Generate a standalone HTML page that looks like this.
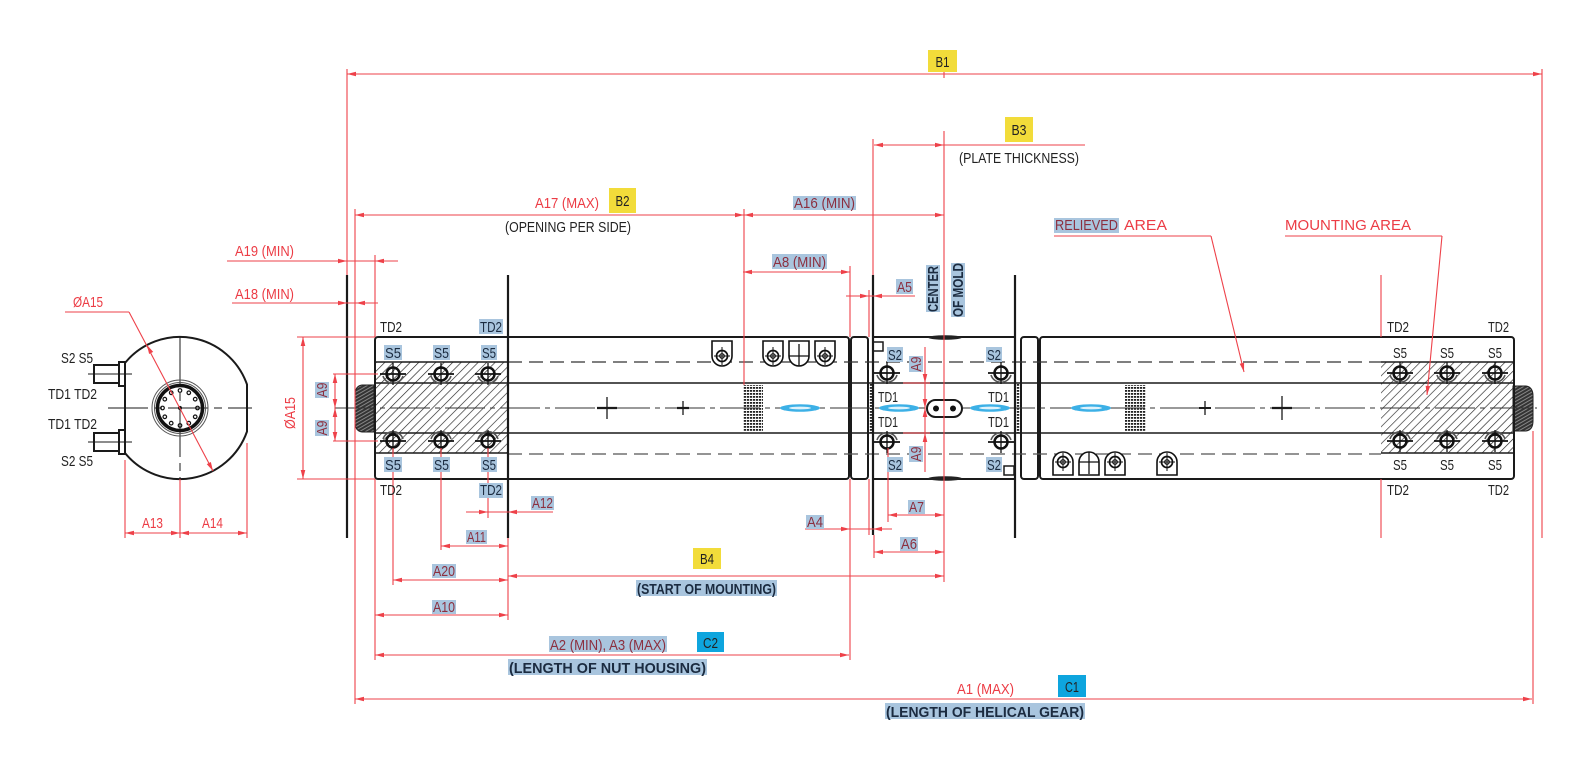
<!DOCTYPE html>
<html><head><meta charset="utf-8"><style>
html,body{margin:0;padding:0;background:#fff;}
svg{display:block}
text{font-family:"Liberation Sans Narrow","Liberation Sans",sans-serif;font-size:15px}
.r{fill:#ec3c45}
.hr{fill:#8c2f3f}
.k{fill:#222}
.hk{fill:#1b2b40}
.hl{fill:#a9c5de}
.yb{fill:#f2dc3a}
.bb{fill:#0ea5de}
</style></head><body>
<svg width="1575" height="765" viewBox="0 0 1575 765" xmlns="http://www.w3.org/2000/svg" xmlns:xlink="http://www.w3.org/1999/xlink">
<defs>
<path id="aL" d="M0,0L9,-2.3L9,2.3Z"/>
<path id="aR" d="M0,0L-9,-2.3L-9,2.3Z"/>
<path id="aU" d="M0,0L-2.3,9L2.3,9Z"/>
<path id="aD" d="M0,0L-2.3,-9L2.3,-9Z"/>
<pattern id="hatch" width="6" height="6" patternUnits="userSpaceOnUse" patternTransform="rotate(45)"><line x1="0" y1="0" x2="0" y2="6" stroke="#222" stroke-width="1.3"/></pattern>
<pattern id="gear" width="3" height="3" patternUnits="userSpaceOnUse" patternTransform="rotate(-30)"><rect width="3" height="3" fill="#333"/><line x1="0" y1="1.5" x2="3" y2="1.5" stroke="#aaa" stroke-width="0.7"/></pattern>
<pattern id="knurl" width="3" height="3" patternUnits="userSpaceOnUse"><rect width="3" height="3" fill="#fff"/><rect width="2.2" height="1.8" fill="#222"/></pattern>
<g id="bT" fill="none" stroke="#111"><path d="M-10,2A10.5,10.5 0 0 0 10,2" stroke="#555" stroke-width="1.6"/><circle r="6.5" stroke-width="2.5"/><line x1="-13" y1="0" x2="13" y2="0" stroke-width="1.8"/><line x1="0" y1="-11" x2="0" y2="11" stroke-width="1.3"/></g>
<g id="bB" fill="none" stroke="#111"><path d="M-10,-2A10.5,10.5 0 0 1 10,-2" stroke="#555" stroke-width="1.6"/><circle r="6.5" stroke-width="2.5"/><line x1="-13" y1="0" x2="13" y2="0" stroke-width="1.8"/><line x1="0" y1="-11" x2="0" y2="11" stroke-width="1.3"/></g>
<g id="icA" fill="none" stroke="#111"><path d="M-10,0H10V15A10,10 0 0 1 -10,15Z" fill="#fff" stroke-width="1.6"/><circle cx="0" cy="15" r="5.5" stroke-width="1.7"/><circle cx="0" cy="15" r="2.3" stroke-width="1.2"/><line x1="-8" y1="15" x2="8" y2="15"/><line x1="0" y1="6" x2="0" y2="24"/></g>
<g id="icB" fill="none" stroke="#111"><path d="M-10,0H10V15A10,10 0 0 1 -10,15Z" fill="#fff" stroke-width="1.6"/><line x1="-10" y1="15" x2="10" y2="15" stroke-width="1.3"/><line x1="0" y1="3" x2="0" y2="25" stroke-width="1.3"/></g>
<g id="icC" fill="none" stroke="#111"><path d="M-10,23V10A10,10 0 0 1 10,10V23Z" fill="#fff" stroke-width="1.6"/><circle cx="0" cy="10" r="5.5" stroke-width="1.7"/><circle cx="0" cy="10" r="2.3" stroke-width="1.2"/><line x1="-8" y1="10" x2="8" y2="10"/><line x1="0" y1="1" x2="0" y2="19"/></g>
<g id="icD" fill="none" stroke="#111"><path d="M-10,23V10A10,10 0 0 1 10,10V23Z" fill="#fff" stroke-width="1.6"/><line x1="-10" y1="10" x2="10" y2="10" stroke-width="1.3"/><line x1="0" y1="0" x2="0" y2="22" stroke-width="1.3"/></g>
<g id="blue"><ellipse rx="20" ry="3.8" fill="#3cb0e6"/><ellipse rx="11" ry="1.4" fill="#dff2fb"/></g>
</defs>

<!-- ===== LEFT END VIEW ===== -->
<g fill="none" stroke="#1a1a1a">
<path d="M125,363A71,71 0 0 1 247,384.5L247,431.5A71,71 0 0 1 125,453Z" stroke-width="2"/>
<line x1="108" y1="408" x2="252" y2="408" stroke-width="1" stroke-dasharray="40,6,8,6"/>
<line x1="180" y1="337" x2="180" y2="479" stroke-width="1" stroke-dasharray="50,6,8,6"/>
<circle cx="180" cy="408" r="28" stroke="#555" stroke-width="1"/>
<circle cx="180" cy="408" r="25.5" stroke="#555" stroke-width="1"/>
<circle cx="180" cy="408" r="22.5" stroke="#111" stroke-width="3.5"/>
<g stroke="#111" stroke-width="1.2">
<circle cx="197.5" cy="408" r="1.8"/><circle cx="195.2" cy="416.8" r="1.8"/><circle cx="188.8" cy="423.2" r="1.8"/><circle cx="180" cy="425.5" r="1.8"/><circle cx="171.2" cy="423.2" r="1.8"/><circle cx="164.8" cy="416.8" r="1.8"/><circle cx="162.5" cy="408" r="1.8"/><circle cx="164.8" cy="399.2" r="1.8"/><circle cx="171.2" cy="392.8" r="1.8"/><circle cx="180" cy="390.5" r="1.8"/><circle cx="188.8" cy="392.8" r="1.8"/><circle cx="195.2" cy="399.2" r="1.8"/>
</g>
<circle cx="180" cy="408" r="1.6" fill="#111"/>
<rect x="94" y="365" width="26" height="18" fill="#fff" stroke-width="2"/>
<rect x="119" y="362" width="6" height="24" fill="#fff" stroke-width="2"/>
<rect x="94" y="433" width="26" height="18" fill="#fff" stroke-width="2"/>
<rect x="119" y="430" width="6" height="24" fill="#fff" stroke-width="2"/>
<line x1="88" y1="374" x2="132" y2="374" stroke-width="1"/>
<line x1="88" y1="442" x2="132" y2="442" stroke-width="1"/>
</g>

<!-- ===== HATCHED AREAS ===== -->
<rect x="375" y="362" width="133" height="91" fill="url(#hatch)"/>
<rect x="1381" y="362" width="133" height="91" fill="url(#hatch)"/>

<!-- gears -->
<path d="M374,385L362,385Q355,386 355,395L355,422Q355,431 362,432L374,432Z" fill="url(#gear)" stroke="#222" stroke-width="1"/>
<path d="M1513,386L1526,386Q1533,387 1533,396L1533,421Q1533,430 1526,431L1513,431Z" fill="url(#gear)" stroke="#222" stroke-width="1"/>

<!-- knurls -->
<rect x="743" y="385" width="20" height="47" fill="url(#knurl)"/>
<rect x="1125" y="385" width="21" height="47" fill="url(#knurl)"/>
<rect x="868" y="384" width="5" height="49" fill="url(#knurl)"/>
<rect x="1015" y="384" width="6" height="49" fill="url(#knurl)"/>

<!-- ===== MAIN BODY OUTLINES ===== -->
<g fill="none" stroke="#1a1a1a">
<rect x="375" y="337" width="474" height="142" rx="3" stroke-width="2"/>
<rect x="851" y="337" width="17" height="142" rx="3" stroke-width="2"/>
<line x1="873" y1="337" x2="1015" y2="337" stroke-width="2"/>
<line x1="873" y1="479" x2="1015" y2="479" stroke-width="2"/>
<rect x="1021" y="337" width="17" height="142" rx="3" stroke-width="2"/>
<rect x="1040" y="337" width="474" height="142" rx="3" stroke-width="2"/>
<line x1="375" y1="383" x2="1514" y2="383" stroke-width="1.6"/>
<line x1="375" y1="433" x2="1514" y2="433" stroke-width="1.6"/>
<line x1="375" y1="362" x2="508" y2="362" stroke-width="1.4"/>
<line x1="375" y1="453" x2="508" y2="453" stroke-width="1.4"/>
<line x1="1381" y1="362" x2="1514" y2="362" stroke-width="1.4"/>
<line x1="1381" y1="453" x2="1514" y2="453" stroke-width="1.4"/>
<line x1="508" y1="362" x2="1381" y2="362" stroke="#333" stroke-width="1.3" stroke-dasharray="14,7"/>
<line x1="508" y1="454" x2="1381" y2="454" stroke="#555" stroke-width="1.3" stroke-dasharray="14,7"/>
<line x1="335" y1="408" x2="1537" y2="408" stroke="#333" stroke-width="1" stroke-dasharray="40,5,5,5"/>
<!-- long black verticals -->
<line x1="347" y1="275" x2="347" y2="538" stroke-width="2.2"/>
<line x1="508" y1="275" x2="508" y2="538" stroke-width="2.2"/>
<line x1="873" y1="275" x2="873" y2="535" stroke-width="2.2"/>
<line x1="1015" y1="275" x2="1015" y2="538" stroke-width="2.2"/>
<!-- small rects center block -->
<rect x="873" y="342" width="10" height="9" stroke-width="1.5"/>
<rect x="1004" y="466" width="10" height="9" stroke-width="1.5"/>
<!-- center oblong -->
<rect x="927" y="400" width="35" height="17" rx="8.5" fill="#fff" stroke-width="2"/>
<!-- crosses -->
<line x1="597" y1="408" x2="617" y2="408" stroke-width="2.2"/>
<line x1="607" y1="397" x2="607" y2="419" stroke-width="1.3"/>
<line x1="677" y1="408" x2="689" y2="408" stroke-width="2.2"/>
<line x1="683" y1="401" x2="683" y2="415" stroke-width="1.3"/>
<line x1="1199" y1="408" x2="1211" y2="408" stroke-width="2"/>
<line x1="1205" y1="401" x2="1205" y2="415" stroke-width="1.3"/>
<line x1="1272" y1="408" x2="1292" y2="408" stroke-width="2.2"/>
<line x1="1282" y1="396" x2="1282" y2="420" stroke-width="1.3"/>
</g>
<circle cx="936" cy="408.5" r="3" fill="#111"/>
<circle cx="953" cy="408.5" r="3" fill="#111"/>
<ellipse cx="945" cy="337.5" rx="17" ry="2.3" fill="#222"/>
<ellipse cx="945" cy="478.5" rx="17" ry="2.3" fill="#222"/>

<!-- blue scribbles -->
<use href="#blue" xlink:href="#blue" x="800" y="408"/>
<use href="#blue" xlink:href="#blue" x="899" y="408"/>
<use href="#blue" xlink:href="#blue" x="990" y="408"/>
<use href="#blue" xlink:href="#blue" x="1091" y="408"/>

<!-- bolts -->
<use href="#bT" xlink:href="#bT" x="393" y="374"/>
<use href="#bT" xlink:href="#bT" x="441" y="374"/>
<use href="#bT" xlink:href="#bT" x="488" y="374"/>
<use href="#bB" xlink:href="#bB" x="393" y="441"/>
<use href="#bB" xlink:href="#bB" x="441" y="441"/>
<use href="#bB" xlink:href="#bB" x="488" y="441"/>
<use href="#bT" xlink:href="#bT" x="1400" y="373"/>
<use href="#bT" xlink:href="#bT" x="1447" y="373"/>
<use href="#bT" xlink:href="#bT" x="1495" y="373"/>
<use href="#bB" xlink:href="#bB" x="1400" y="441"/>
<use href="#bB" xlink:href="#bB" x="1447" y="441"/>
<use href="#bB" xlink:href="#bB" x="1495" y="441"/>
<use href="#bT" xlink:href="#bT" x="887" y="373"/>
<use href="#bT" xlink:href="#bT" x="1001" y="373"/>
<use href="#bB" xlink:href="#bB" x="887" y="442"/>
<use href="#bB" xlink:href="#bB" x="1001" y="442"/>

<!-- icons -->
<use href="#icA" xlink:href="#icA" x="722" y="341"/>
<use href="#icA" xlink:href="#icA" x="773" y="341"/>
<use href="#icB" xlink:href="#icB" x="799" y="341"/>
<use href="#icA" xlink:href="#icA" x="825" y="341"/>
<use href="#icC" xlink:href="#icC" x="1063" y="452"/>
<use href="#icD" xlink:href="#icD" x="1089" y="452"/>
<use href="#icC" xlink:href="#icC" x="1115" y="452"/>
<use href="#icC" xlink:href="#icC" x="1167" y="452"/>

<!-- ===== RED DIMENSIONS ===== -->
<g stroke="#ee4149" stroke-width="1.1" fill="none">
<line x1="347" y1="74" x2="1542" y2="74"/>
<line x1="347" y1="69" x2="347" y2="275"/>
<line x1="1542" y1="69" x2="1542" y2="538"/>
<line x1="944" y1="70" x2="944" y2="78"/>
<line x1="874" y1="145" x2="1085" y2="145"/>
<line x1="873" y1="139" x2="873" y2="275"/>
<line x1="944" y1="131" x2="944" y2="582"/>
<line x1="355" y1="215" x2="944" y2="215"/>
<line x1="355" y1="209" x2="355" y2="704"/>
<line x1="744" y1="209" x2="744" y2="385"/>
<line x1="227" y1="261" x2="398" y2="261"/>
<line x1="232" y1="303" x2="378" y2="303"/>
<line x1="375" y1="255" x2="375" y2="337"/>
<line x1="375" y1="479" x2="375" y2="660"/>
<line x1="743" y1="272" x2="850" y2="272"/>
<line x1="850" y1="266" x2="850" y2="337"/>
<line x1="850" y1="479" x2="850" y2="660"/>
<line x1="846" y1="296" x2="915" y2="296"/>
<line x1="869" y1="290" x2="869" y2="337"/>
<line x1="869" y1="479" x2="869" y2="535"/>
<line x1="303" y1="337" x2="303" y2="479"/>
<line x1="297" y1="337" x2="375" y2="337"/>
<line x1="297" y1="479" x2="375" y2="479"/>
<line x1="335" y1="374" x2="335" y2="441"/>
<line x1="333" y1="374" x2="378" y2="374"/>
<line x1="333" y1="441" x2="378" y2="441"/>
<line x1="925" y1="347" x2="925" y2="472"/>
<line x1="903" y1="383" x2="930" y2="383"/>
<line x1="903" y1="433" x2="930" y2="433"/>
<line x1="65" y1="312" x2="129" y2="312"/>
<line x1="129" y1="312" x2="213" y2="471"/>
<line x1="125" y1="460" x2="125" y2="538"/>
<line x1="180" y1="479" x2="180" y2="538"/>
<line x1="247" y1="443" x2="247" y2="538"/>
<line x1="125" y1="533" x2="247" y2="533"/>
<line x1="466" y1="512" x2="553" y2="512"/>
<line x1="488" y1="448" x2="488" y2="518"/>
<line x1="441" y1="546" x2="508" y2="546"/>
<line x1="441" y1="448" x2="441" y2="550"/>
<line x1="393" y1="580" x2="508" y2="580"/>
<line x1="393" y1="448" x2="393" y2="585"/>
<line x1="508" y1="538" x2="508" y2="620"/>
<line x1="375" y1="615" x2="508" y2="615"/>
<line x1="508" y1="576" x2="944" y2="576"/>
<line x1="375" y1="655" x2="849" y2="655"/>
<line x1="805" y1="529" x2="892" y2="529"/>
<line x1="888" y1="448" x2="888" y2="522"/>
<line x1="888" y1="515" x2="944" y2="515"/>
<line x1="874" y1="535" x2="874" y2="558"/>
<line x1="874" y1="552" x2="944" y2="552"/>
<line x1="355" y1="699" x2="1532" y2="699"/>
<line x1="1533" y1="431" x2="1533" y2="704"/>
<line x1="1381" y1="275" x2="1381" y2="337"/>
<line x1="1381" y1="479" x2="1381" y2="538"/>
<line x1="1054" y1="236" x2="1211" y2="236"/>
<line x1="1211" y1="236" x2="1244" y2="372"/>
<line x1="1285" y1="236" x2="1442" y2="236"/>
<line x1="1442" y1="236" x2="1427" y2="395"/>
</g>

<!-- arrows -->
<g fill="#ee4149">
<use href="#aL" xlink:href="#aL" x="347" y="74"/><use href="#aR" xlink:href="#aR" x="1542" y="74"/>
<use href="#aL" xlink:href="#aL" x="874" y="145"/><use href="#aR" xlink:href="#aR" x="944" y="145"/>
<use href="#aL" xlink:href="#aL" x="355" y="215"/><use href="#aR" xlink:href="#aR" x="744" y="215"/>
<use href="#aL" xlink:href="#aL" x="744" y="215"/><use href="#aR" xlink:href="#aR" x="944" y="215"/>
<use href="#aR" xlink:href="#aR" x="347" y="261"/><use href="#aL" xlink:href="#aL" x="375" y="261"/>
<use href="#aR" xlink:href="#aR" x="347" y="303"/><use href="#aL" xlink:href="#aL" x="356" y="303"/>
<use href="#aL" xlink:href="#aL" x="743" y="272"/><use href="#aR" xlink:href="#aR" x="850" y="272"/>
<use href="#aR" xlink:href="#aR" x="869" y="296"/><use href="#aL" xlink:href="#aL" x="873" y="296"/>
<use href="#aU" xlink:href="#aU" x="303" y="337"/><use href="#aD" xlink:href="#aD" x="303" y="479"/>
<use href="#aU" xlink:href="#aU" x="335" y="374"/><use href="#aD" xlink:href="#aD" x="335" y="408"/>
<use href="#aU" xlink:href="#aU" x="335" y="408"/><use href="#aD" xlink:href="#aD" x="335" y="441"/>
<use href="#aD" xlink:href="#aD" x="925" y="383"/><use href="#aU" xlink:href="#aU" x="925" y="408"/>
<use href="#aD" xlink:href="#aD" x="925" y="408"/><use href="#aU" xlink:href="#aU" x="925" y="433"/>
<use href="#aL" xlink:href="#aL" x="125" y="533"/><use href="#aR" xlink:href="#aR" x="180" y="533"/>
<use href="#aL" xlink:href="#aL" x="180" y="533"/><use href="#aR" xlink:href="#aR" x="247" y="533"/>
<use href="#aR" xlink:href="#aR" x="488" y="512"/><use href="#aL" xlink:href="#aL" x="508" y="512"/>
<use href="#aL" xlink:href="#aL" x="441" y="546"/><use href="#aR" xlink:href="#aR" x="508" y="546"/>
<use href="#aL" xlink:href="#aL" x="393" y="580"/><use href="#aR" xlink:href="#aR" x="508" y="580"/>
<use href="#aL" xlink:href="#aL" x="375" y="615"/><use href="#aR" xlink:href="#aR" x="508" y="615"/>
<use href="#aL" xlink:href="#aL" x="508" y="576"/><use href="#aR" xlink:href="#aR" x="944" y="576"/>
<use href="#aL" xlink:href="#aL" x="375" y="655"/><use href="#aR" xlink:href="#aR" x="849" y="655"/>
<use href="#aR" xlink:href="#aR" x="850" y="529"/><use href="#aL" xlink:href="#aL" x="873" y="529"/>
<use href="#aL" xlink:href="#aL" x="888" y="515"/><use href="#aR" xlink:href="#aR" x="944" y="515"/>
<use href="#aL" xlink:href="#aL" x="874" y="552"/><use href="#aR" xlink:href="#aR" x="944" y="552"/>
<use href="#aL" xlink:href="#aL" x="355" y="699"/><use href="#aR" xlink:href="#aR" x="1532" y="699"/>
<polygon points="213,471 210.85,461.96 206.77,464.1"/>
<polygon points="147,345 153.2,351.9 149.1,354"/>
<polygon points="1244,372 1244.1,362.8 1239.7,363.8"/>
<polygon points="1427,395 1430.1,386.3 1425.6,385.8"/>
</g>

<!-- ===== BOXES ===== -->
<rect class="yb" x="928" y="50" width="29" height="22"/>
<rect class="yb" x="1005" y="117" width="28" height="25"/>
<rect class="yb" x="609" y="188" width="27" height="25"/>
<rect class="yb" x="693" y="548" width="28" height="21"/>
<rect class="bb" x="697" y="632" width="27" height="20"/>
<rect class="bb" x="1058" y="675" width="28" height="22"/>
<text class="k" x="942.5" y="67" text-anchor="middle" textLength="14" lengthAdjust="spacingAndGlyphs">B1</text>
<text class="k" x="1019" y="135" text-anchor="middle" textLength="15" lengthAdjust="spacingAndGlyphs">B3</text>
<text class="k" x="622.5" y="206" text-anchor="middle" textLength="14" lengthAdjust="spacingAndGlyphs">B2</text>
<text class="k" x="707" y="564" text-anchor="middle" textLength="14" lengthAdjust="spacingAndGlyphs">B4</text>
<text class="k" x="710.5" y="648" text-anchor="middle" textLength="15" lengthAdjust="spacingAndGlyphs">C2</text>
<text class="k" x="1072" y="692" text-anchor="middle" textLength="14" lengthAdjust="spacingAndGlyphs">C1</text>

<!-- ===== HIGHLIGHTS ===== -->
<g class="hl">
<rect x="793" y="196" width="63" height="14"/>
<rect x="772" y="254" width="55" height="15"/>
<rect x="896" y="279" width="17" height="15"/>
<rect x="1054" y="218" width="65" height="15"/>
<rect x="479" y="319" width="24" height="15"/>
<rect x="479" y="483" width="24" height="15"/>
<rect x="384" y="345" width="18" height="15"/><rect x="433" y="345" width="17" height="15"/><rect x="481" y="345" width="16" height="15"/>
<rect x="384" y="457" width="18" height="15"/><rect x="433" y="457" width="17" height="15"/><rect x="481" y="457" width="16" height="15"/>
<rect x="887" y="347" width="16" height="15"/><rect x="986" y="347" width="16" height="15"/>
<rect x="887" y="457" width="16" height="15"/><rect x="986" y="457" width="16" height="15"/>
<rect x="531" y="496" width="23" height="14"/>
<rect x="466" y="530" width="21" height="14"/>
<rect x="432" y="564" width="24" height="14"/>
<rect x="432" y="600" width="24" height="14"/>
<rect x="806" y="515" width="18" height="14"/>
<rect x="908" y="500" width="17" height="14"/>
<rect x="900" y="537" width="18" height="14"/>
<rect x="636" y="580" width="141" height="16"/>
<rect x="549" y="636" width="118" height="16"/>
<rect x="508" y="659" width="199" height="16"/>
<rect x="885" y="703" width="200" height="16"/>
<rect x="315" y="382" width="14" height="16"/>
<rect x="315" y="420" width="14" height="16"/>
<rect x="909" y="356" width="14" height="16"/>
<rect x="909" y="446" width="14" height="16"/>
<rect x="926" y="265" width="14" height="47"/>
<rect x="951" y="263" width="14" height="54"/>
</g>

<!-- ===== TEXT ===== -->
<text class="k" x="959" y="163" textLength="120" lengthAdjust="spacingAndGlyphs">(PLATE THICKNESS)</text>
<text class="r" x="535" y="208" textLength="64" lengthAdjust="spacingAndGlyphs">A17 (MAX)</text>
<text class="k" x="505" y="232" textLength="126" lengthAdjust="spacingAndGlyphs">(OPENING PER SIDE)</text>
<text class="hr" x="794" y="208" textLength="61" lengthAdjust="spacingAndGlyphs">A16 (MIN)</text>
<text class="hr" x="1055" y="230" textLength="63" lengthAdjust="spacingAndGlyphs">RELIEVED</text>
<text class="r" x="1124" y="230" textLength="43" lengthAdjust="spacingAndGlyphs">AREA</text>
<text class="r" x="1285" y="230" textLength="126" lengthAdjust="spacingAndGlyphs">MOUNTING AREA</text>
<text class="r" x="235" y="256" textLength="59" lengthAdjust="spacingAndGlyphs">A19 (MIN)</text>
<text class="r" x="235" y="299" textLength="59" lengthAdjust="spacingAndGlyphs">A18 (MIN)</text>
<text class="hr" x="773" y="267" textLength="53" lengthAdjust="spacingAndGlyphs">A8 (MIN)</text>
<text class="hr" x="897" y="292" textLength="15" lengthAdjust="spacingAndGlyphs">A5</text>
<text class="hk" font-weight="bold" transform="translate(933,289) rotate(-90)" x="0" y="5" text-anchor="middle" textLength="46" lengthAdjust="spacingAndGlyphs">CENTER</text>
<text class="hk" font-weight="bold" transform="translate(958,290) rotate(-90)" x="0" y="5" text-anchor="middle" textLength="54" lengthAdjust="spacingAndGlyphs">OF MOLD</text>

<text class="r" x="73" y="307" textLength="30" lengthAdjust="spacingAndGlyphs">ØA15</text>
<text class="k" x="61" y="363" textLength="32" lengthAdjust="spacingAndGlyphs">S2 S5</text>
<text class="k" x="48" y="399" textLength="49" lengthAdjust="spacingAndGlyphs">TD1 TD2</text>
<text class="k" x="48" y="429" textLength="49" lengthAdjust="spacingAndGlyphs">TD1 TD2</text>
<text class="k" x="61" y="466" textLength="32" lengthAdjust="spacingAndGlyphs">S2 S5</text>
<text class="r" x="142" y="528" textLength="21" lengthAdjust="spacingAndGlyphs">A13</text>
<text class="r" x="202" y="528" textLength="21" lengthAdjust="spacingAndGlyphs">A14</text>
<text class="r" transform="translate(290,413) rotate(-90)" x="0" y="5" text-anchor="middle" textLength="32" lengthAdjust="spacingAndGlyphs">ØA15</text>
<text class="hr" transform="translate(322,390) rotate(-90)" x="0" y="5" text-anchor="middle" textLength="15" lengthAdjust="spacingAndGlyphs">A9</text>
<text class="hr" transform="translate(322,428) rotate(-90)" x="0" y="5" text-anchor="middle" textLength="15" lengthAdjust="spacingAndGlyphs">A9</text>
<text class="hr" transform="translate(916,364) rotate(-90)" x="0" y="5" text-anchor="middle" textLength="15" lengthAdjust="spacingAndGlyphs">A9</text>
<text class="hr" transform="translate(916,454) rotate(-90)" x="0" y="5" text-anchor="middle" textLength="15" lengthAdjust="spacingAndGlyphs">A9</text>

<text class="k" x="380" y="332" textLength="22" lengthAdjust="spacingAndGlyphs">TD2</text>
<text class="hk" x="480" y="332" textLength="22" lengthAdjust="spacingAndGlyphs">TD2</text>
<text class="k" x="380" y="495" textLength="22" lengthAdjust="spacingAndGlyphs">TD2</text>
<text class="hk" x="480" y="495" textLength="22" lengthAdjust="spacingAndGlyphs">TD2</text>
<text class="hk" x="385" y="358" textLength="16" lengthAdjust="spacingAndGlyphs">S5</text>
<text class="hk" x="434" y="358" textLength="15" lengthAdjust="spacingAndGlyphs">S5</text>
<text class="hk" x="482" y="358" textLength="14" lengthAdjust="spacingAndGlyphs">S5</text>
<text class="hk" x="385" y="470" textLength="16" lengthAdjust="spacingAndGlyphs">S5</text>
<text class="hk" x="434" y="470" textLength="15" lengthAdjust="spacingAndGlyphs">S5</text>
<text class="hk" x="482" y="470" textLength="14" lengthAdjust="spacingAndGlyphs">S5</text>

<text class="hk" x="888" y="360" textLength="14" lengthAdjust="spacingAndGlyphs">S2</text>
<text class="hk" x="987" y="360" textLength="14" lengthAdjust="spacingAndGlyphs">S2</text>
<text class="hk" x="888" y="470" textLength="14" lengthAdjust="spacingAndGlyphs">S2</text>
<text class="hk" x="987" y="470" textLength="14" lengthAdjust="spacingAndGlyphs">S2</text>
<text class="k" x="878" y="402" textLength="20" lengthAdjust="spacingAndGlyphs">TD1</text>
<text class="k" x="988" y="402" textLength="21" lengthAdjust="spacingAndGlyphs">TD1</text>
<text class="k" x="878" y="427" textLength="20" lengthAdjust="spacingAndGlyphs">TD1</text>
<text class="k" x="988" y="427" textLength="21" lengthAdjust="spacingAndGlyphs">TD1</text>

<text class="k" x="1387" y="332" textLength="22" lengthAdjust="spacingAndGlyphs">TD2</text>
<text class="k" x="1488" y="332" textLength="21" lengthAdjust="spacingAndGlyphs">TD2</text>
<text class="k" x="1387" y="495" textLength="22" lengthAdjust="spacingAndGlyphs">TD2</text>
<text class="k" x="1488" y="495" textLength="21" lengthAdjust="spacingAndGlyphs">TD2</text>
<text class="k" x="1393" y="358" textLength="14" lengthAdjust="spacingAndGlyphs">S5</text>
<text class="k" x="1440" y="358" textLength="14" lengthAdjust="spacingAndGlyphs">S5</text>
<text class="k" x="1488" y="358" textLength="14" lengthAdjust="spacingAndGlyphs">S5</text>
<text class="k" x="1393" y="470" textLength="14" lengthAdjust="spacingAndGlyphs">S5</text>
<text class="k" x="1440" y="470" textLength="14" lengthAdjust="spacingAndGlyphs">S5</text>
<text class="k" x="1488" y="470" textLength="14" lengthAdjust="spacingAndGlyphs">S5</text>

<text class="hr" x="532" y="508" textLength="21" lengthAdjust="spacingAndGlyphs">A12</text>
<text class="hr" x="467" y="542" textLength="19" lengthAdjust="spacingAndGlyphs">A11</text>
<text class="hr" x="433" y="576" textLength="22" lengthAdjust="spacingAndGlyphs">A20</text>
<text class="hr" x="433" y="612" textLength="22" lengthAdjust="spacingAndGlyphs">A10</text>
<text class="hr" x="807" y="527" textLength="16" lengthAdjust="spacingAndGlyphs">A4</text>
<text class="hr" x="909" y="512" textLength="15" lengthAdjust="spacingAndGlyphs">A7</text>
<text class="hr" x="901" y="549" textLength="16" lengthAdjust="spacingAndGlyphs">A6</text>
<text class="hk" font-weight="bold" x="637" y="594" textLength="139" lengthAdjust="spacingAndGlyphs">(START OF MOUNTING)</text>
<text class="hr" x="550" y="650" textLength="116" lengthAdjust="spacingAndGlyphs">A2 (MIN), A3 (MAX)</text>
<text class="hk" font-weight="bold" x="509" y="673" textLength="197" lengthAdjust="spacingAndGlyphs">(LENGTH OF NUT HOUSING)</text>
<text class="r" x="957" y="694" textLength="57" lengthAdjust="spacingAndGlyphs">A1 (MAX)</text>
<text class="hk" font-weight="bold" x="886" y="717" textLength="198" lengthAdjust="spacingAndGlyphs">(LENGTH OF HELICAL GEAR)</text>
</svg>
</body></html>
